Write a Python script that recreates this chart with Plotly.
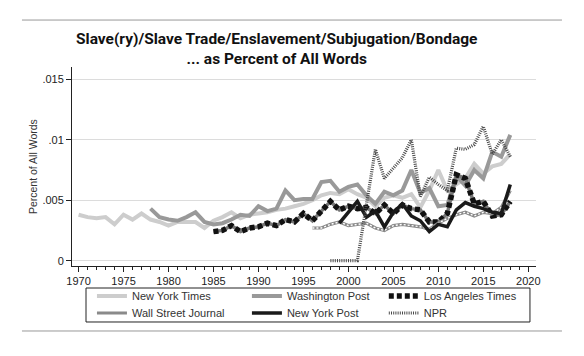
import plotly.graph_objects as go

# ---------------- data ----------------
nyt_years = list(range(1970, 2019))
nyt_vals = [.0038, .0036, .0035, .0036, .0030, .0038, .0034, .0039, .0034, .0032,
            .0029, .0032, .0032, .0032, .0027, .0033, .0036, .0040, .0035, .0038,
            .0039, .0040, .0042, .0043, .0045, .0047, .0050, .0054, .0056, .0055,
            .0059, .0055, .0052, .0045, .0052, .0054, .0052, .0055, .0044, .0058,
            .0075, .0058, .0063, .0068, .0080, .0072, .0078, .0080, .0088]

wapo_years = list(range(1978, 2019))
wapo_vals = [.0043, .0036, .0034, .0033, .0036, .0040, .0032, .0030, .0031, .0034,
             .0038, .0037, .0045, .0041, .0043, .0058, .0050, .0051, .0051, .0065,
             .0066, .0057, .0061, .0063, .0054, .0047, .0057, .0054, .0058, .0075,
             .0056, .0060, .0045, .0046, .0070, .0062, .0075, .0068, .0090, .0086,
             .0104]

lat_years = list(range(1985, 2019))
lat_vals = [.0024, .0025, .0029, .0024, .0027, .0028, .0031, .0029, .0034, .0032,
            .0039, .0033, .0041, .0049, .0042, .0045, .0043, .0044, .0039, .0046,
            .0039, .0046, .0043, .0042, .0032, .0032, .0039, .0071, .0068, .0047,
            .0049, .0037, .0038, .0049]

wsj_years = list(range(1996, 2019))
wsj_vals = [.0027, .0027, .0030, .0032, .0029, .0030, .0031, .0027, .0025, .0029,
            .0030, .0029, .0028, .0026, .0031, .0035, .0038, .0040, .0037, .0040,
            .0039, .0044, .0058]

nyp_years = list(range(1999, 2019))
nyp_vals = [.0031, .0040, .0049, .0036, .0041, .0028, .0040, .0047, .0037, .0033,
            .0024, .0030, .0028, .0042, .0048, .0045, .0043, .0040, .0039, .0063]

npr_years = list(range(1998, 2019))
npr_vals = [0, 0, 0, 0, .0046, .0092, .0068, .0077, .0085, .0100, .0053, .0069,
            .0063, .0058, .0093, .0092, .0096, .0111, .0088, .0100, .0086]

y_tickvals = [0, .005, .01, .015]
y_ticktext = ["0", ".005", ".01", ".015"]
x_tickvals = [1970, 1975, 1980, 1985, 1990, 1995, 2000, 2005, 2010, 2015, 2020]

# ---------------- figure ----------------
fig = go.Figure()

fig.add_trace(go.Scatter(x=nyt_years, y=nyt_vals, mode="lines", name="New York Times",
                         line=dict(color="#cdcdcd", width=4), legend="legend"))
fig.add_trace(go.Scatter(x=wapo_years, y=wapo_vals, mode="lines", name="Washington Post",
                         line=dict(color="#999999", width=4), legend="legend2"))
fig.add_trace(go.Scatter(x=lat_years, y=lat_vals, mode="lines", name="Los Angeles Times",
                         line=dict(color="#777777", width=3.5), showlegend=False,
                         legendgroup="lat", hoverinfo="skip"))
fig.add_trace(go.Scatter(x=lat_years, y=lat_vals, mode="lines", name="Los Angeles Times",
                         line=dict(color="#111111", width=5.5, dash="5px,3px"),
                         legendgroup="lat", legend="legend3"))
fig.add_trace(go.Scatter(x=wsj_years, y=wsj_vals, mode="lines", name="Wall Street Journal",
                         line=dict(color="#8a8a8a", width=3.2), legendgroup="wsj",
                         legend="legend4"))
fig.add_trace(go.Scatter(x=wsj_years, y=wsj_vals, mode="lines", name="Wall Street Journal",
                         line=dict(color="#ffffff", width=1.4, dash="2px,2px"),
                         legendgroup="wsj", showlegend=False, hoverinfo="skip"))
fig.add_trace(go.Scatter(x=nyp_years, y=nyp_vals, mode="lines", name="New York Post",
                         line=dict(color="#1a1a1a", width=3.5), legend="legend5"))
fig.add_trace(go.Scatter(x=npr_years, y=npr_vals, mode="lines", name="NPR",
                         line=dict(color="#4a4a4a", width=3.2, dash="1px,1.2px"),
                         legend="legend6"))

base_font = "Liberation Sans, Arial, sans-serif"
legend_common = dict(orientation="v", bgcolor="rgba(0,0,0,0)", borderwidth=0,
                     font=dict(family=base_font, size=11, color="#333333"),
                     xanchor="left", yanchor="middle", itemwidth=30)

row1, row2 = -0.1508, -0.2362
col1, col2, col3 = 0.043, 0.377, 0.672

# the page body adds an 8px offset; the figure is sized to compensate
fig.update_layout(
    width=576, height=348,
    margin=dict(l=64, r=48, t=59, b=90, autoexpand=False),
    paper_bgcolor="white", plot_bgcolor="white",
    font=dict(family=base_font, size=11, color="#222222"),
    legend=dict(x=col1, y=row1, **legend_common),
    legend2=dict(x=col2, y=row1, **legend_common),
    legend3=dict(x=col3, y=row1, **legend_common),
    legend4=dict(x=col1, y=row2, **legend_common),
    legend5=dict(x=col2, y=row2, **legend_common),
    legend6=dict(x=col3, y=row2, **legend_common),
    xaxis=dict(range=[1969.27, 2020.86], tickvals=x_tickvals, ticks="outside", ticklen=5,
               tickcolor="#222", showline=True, linecolor="#222", linewidth=1,
               showgrid=False, zeroline=False, tickfont=dict(size=11),
               minor=dict(ticks="outside", dtick=1, ticklen=3, tickcolor="#222", showgrid=False)),
    yaxis=dict(range=[-0.00044, 0.01601], tickvals=y_tickvals, ticktext=y_ticktext,
               ticks="outside", ticklen=5, tickcolor="#222", showline=True,
               linecolor="#222", linewidth=1, showgrid=True, gridcolor="#dcdcdc",
               gridwidth=1, zeroline=False, tickfont=dict(size=11)),
    annotations=[
        dict(text="<b>Slave(ry)/Slave Trade/Enslavement/Subjugation/Bondage</b><br><b>... as Percent of All Words</b>",
             xref="paper", yref="paper", x=0.4418, y=1.09, xanchor="center", yanchor="middle",
             showarrow=False, align="center",
             font=dict(family="Liberation Sans Narrow, Roboto, Arial Narrow, sans-serif", size=15.5, color="#111")),
        dict(text="Percent of All Words", xref="paper", yref="paper", x=-0.084, y=0.497,
             textangle=-90, xanchor="center", yanchor="middle", showarrow=False,
             font=dict(family=base_font, size=10.5, color="#333")),
    ],
    shapes=[
        dict(type="line", xref="paper", yref="paper", x0=-0.1078, x1=1.056, y0=1.236, y1=1.236,
             line=dict(color="#999", width=1)),
        dict(type="line", xref="paper", yref="paper", x0=-0.1078, x1=1.056, y0=-0.3266, y1=-0.3266,
             line=dict(color="#999", width=1)),
        dict(type="rect", xref="paper", yref="paper", x0=0.0302, x1=0.987, y0=-0.1106, y1=-0.2814,
             line=dict(color="#222", width=1)),
    ],
)

fig.write_html("out.html")
